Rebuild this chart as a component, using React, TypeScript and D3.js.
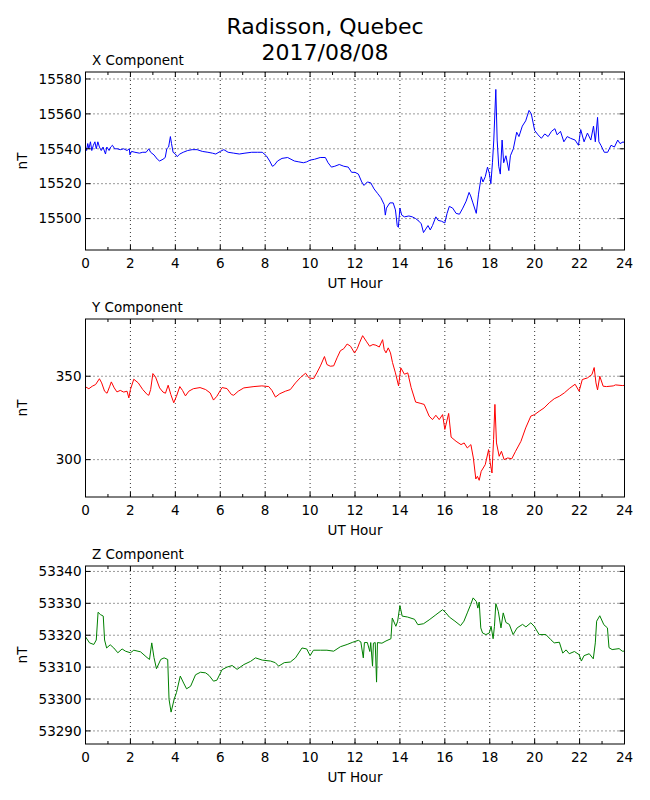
import React from "react";
import * as d3 from "d3";

// ---- data (hours, nT) ----
const X_T = [0,0.05,0.1,0.15,0.22,0.28,0.35,0.42,0.48,0.55,0.62,0.7,0.78,0.89,0.95,1.05,1.12,1.2,1.3,1.42,1.55,1.7,1.85,1.95,1.98,2.05,2.2,2.4,2.55,2.7,2.82,2.9,3.05,3.2,3.3,3.45,3.55,3.62,3.7,3.78,3.83,3.9,4,4.08,4.2,4.35,4.55,4.75,4.97,5.2,5.45,5.65,5.8,6,6.16,6.35,6.6,6.85,7.1,7.4,7.65,7.87,8.05,8.2,8.32,8.4,8.55,8.75,9,9.15,9.3,9.5,9.7,9.85,10,10.2,10.45,10.68,10.8,10.95,11.1,11.3,11.5,11.7,11.85,12,12.15,12.3,12.4,12.55,12.7,12.85,13,13.15,13.3,13.35,13.4,13.55,13.7,13.8,13.88,13.93,14,14.08,14.2,14.4,14.55,14.7,14.85,14.95,15.05,15.15,15.25,15.35,15.45,15.6,15.7,15.85,16,16.1,16.2,16.35,16.5,16.65,16.8,16.95,17.08,17.15,17.25,17.4,17.5,17.62,17.7,17.8,17.9,17.98,18.05,18.12,18.18,18.27,18.33,18.4,18.47,18.55,18.62,18.72,18.85,18.92,19.05,19.2,19.3,19.45,19.6,19.75,19.85,20,20.15,20.3,20.45,20.6,20.75,20.9,21,21.15,21.3,21.45,21.6,21.8,21.95,22.05,22.2,22.35,22.5,22.62,22.7,22.8,22.86,22.95,23.1,23.25,23.4,23.55,23.7,23.8,23.95,24];
const X_V = [15541,15539,15543,15540,15544,15539,15542,15544,15540,15544,15541,15539,15541,15537,15541,15539,15541,15542,15540,15540,15539.5,15540,15539,15540,15536.5,15538.5,15538,15537.5,15538,15538,15540,15538,15536.5,15534,15533,15534,15535,15540,15541,15547,15543,15538,15537,15535.5,15537,15538,15539,15539.5,15539.5,15538.5,15538,15537.5,15537,15538.5,15539.5,15538,15537.5,15537,15537.5,15538,15538,15538,15536,15533,15530,15530.5,15533,15534.5,15535,15534,15533,15532.5,15532,15532.5,15533.5,15534,15535,15535,15532,15529.5,15530,15531,15530,15529.5,15526.5,15526.5,15525.5,15521,15519,15521,15520.5,15517,15514.5,15512,15508,15502,15506,15509,15509,15505,15496,15495,15506,15502,15501,15501.5,15501,15500,15498.5,15497,15492,15494,15496,15493.5,15496,15501,15499,15498.5,15497.5,15503,15507,15506,15503,15502.5,15506,15510,15515,15513,15509,15503,15514,15524,15521,15524,15529.5,15526,15520,15532,15545,15574,15545,15530,15525.5,15545,15532,15536,15527.5,15536,15540,15549.5,15547,15553,15556,15562,15560,15550.5,15548,15546,15548.5,15547,15550,15551.5,15548,15550,15544,15547,15546,15545,15542,15551,15544,15549,15545,15553,15544,15558,15544,15542,15538,15538,15542,15541,15545,15543,15544,15543];

const Y_T = [0,0.15,0.3,0.45,0.62,0.72,0.85,0.96,1.08,1.15,1.28,1.4,1.55,1.7,1.85,1.93,2,2.15,2.35,2.55,2.75,2.82,2.9,3,3.12,3.3,3.45,3.56,3.68,3.8,3.93,4.05,4.2,4.32,4.45,4.6,4.8,5.1,5.35,5.55,5.7,5.85,6.08,6.3,6.5,6.6,6.8,7.05,7.5,7.85,8.16,8.3,8.46,8.65,8.9,9.12,9.35,9.57,9.8,9.95,10.16,10.3,10.46,10.64,10.75,10.9,11.05,11.2,11.35,11.5,11.65,11.8,11.98,12.1,12.2,12.34,12.5,12.65,12.8,12.93,13.08,13.23,13.3,13.38,13.48,13.58,13.67,13.8,13.94,14.04,14.2,14.35,14.5,14.7,14.9,15.08,15.3,15.45,15.6,15.75,15.9,16,16.17,16.28,16.5,16.72,16.86,17,17.16,17.27,17.38,17.45,17.53,17.62,17.8,17.95,18.02,18.1,18.17,18.23,18.3,18.42,18.52,18.64,18.8,18.98,19.15,19.39,19.6,19.83,20,20.2,20.42,20.65,20.87,21.1,21.32,21.54,21.8,21.98,22.12,22.35,22.55,22.65,22.73,22.8,22.9,23.05,23.2,23.5,23.6,23.9,24];
const Y_V = [343.6,342.5,344,345,348.5,346,341,339.8,344,346.6,343,340.6,341.5,340.5,341,337,342,348.2,346,342,339,338.6,342,351.6,349.5,343,340.5,339.8,344.6,339,334.1,338,343.8,341.5,338.2,341,342.5,343.2,342,340,335.7,338,343.2,342.6,339,338.6,341,343,343.8,344.2,343.8,341.5,337.5,339.5,341,342,346,349.2,351.8,349,348.6,352,356.2,361.8,357,356,356.2,361,365.3,366.5,369.3,368,363.9,366.5,370,374.3,371,368,369,368.6,367.5,371.9,366,364,367,364,358.2,352,344.2,355,351.2,352,343.2,334.5,333.8,333.1,326.1,324,326.6,324,327,318.1,327.7,313.5,311,309,310,307,309,301,288.4,290,287.6,293,297,306,298,292,312,333.1,310,302,305,300,301,300.5,305,311,319,326.1,327,329,331,334.1,336.5,338,340,342.6,345.2,341,348,349,351,355.2,346,341.8,350,344,343.8,344.2,344.8,344.4,344.5];

const Z_T = [0,0.18,0.37,0.48,0.56,0.66,0.79,0.85,0.94,1.1,1.26,1.44,1.63,1.78,2,2.15,2.45,2.74,2.85,2.95,3.05,3.16,3.35,3.5,3.66,3.72,3.81,3.95,4.05,4.22,4.37,4.5,4.68,4.9,5.12,5.35,5.5,5.7,5.85,6.08,6.3,6.53,6.75,7.05,7.35,7.57,7.87,8.24,8.45,8.6,8.85,9.12,9.35,9.64,9.85,10,10.15,10.46,10.75,11.05,11.35,11.65,11.9,12.15,12.26,12.37,12.42,12.55,12.66,12.7,12.78,12.82,12.9,12.96,13,13.2,13.38,13.6,13.66,13.82,13.9,14,14.1,14.34,14.65,14.8,15.05,15.3,15.6,15.9,16.05,16.2,16.45,16.7,16.85,17,17.15,17.26,17.4,17.47,17.53,17.6,17.68,17.83,17.98,18.06,18.15,18.21,18.27,18.38,18.5,18.6,18.72,18.87,19.04,19.22,19.46,19.61,19.83,19.98,20.2,20.5,20.72,20.87,21.1,21.25,21.4,21.54,21.77,21.98,22.08,22.2,22.43,22.61,22.7,22.76,22.9,23.08,23.24,23.31,23.45,23.76,23.9,24];
const Z_V = [53319.5,53317.6,53317.1,53318.5,53327.2,53326.5,53326,53318.5,53316,53317,53316,53314.5,53315.7,53315,53314.5,53315.3,53314.8,53313,53312.4,53317.6,53313,53309.5,53312.4,53312.9,53312.4,53299.9,53295.9,53300,53302,53307.2,53305,53303.2,53304,53307.6,53308.4,53308.2,53307.4,53305.6,53305.9,53309.2,53310,53310.5,53309.3,53310.8,53311.8,53312.9,53312.2,53311.9,53311.4,53310.3,53311.4,53311.6,53312.9,53316,53315.7,53313.6,53315.3,53315.3,53315.3,53315,53316.4,53317.1,53317.8,53318.4,53317.9,53312.9,53317.7,53317.7,53314.9,53317.7,53310.3,53317.5,53317.7,53305.3,53317.7,53317.5,53318.2,53318.9,53325.4,53322.8,53324.4,53329.3,53326,53325.7,53325,53323.3,53323.6,53324.8,53326.4,53328,53327,53325.7,53324.4,53323,53324.4,53327,53329.6,53331.7,53330.6,53328.5,53330.4,53322.3,53320.7,53320.2,53320.7,53322.8,53318.9,53322.8,53329.9,53327.5,53322.3,53327,53324,53323.4,53320.2,53322.3,53323.4,53322.6,53323.9,53322.8,53320.2,53320.2,53318.6,53317.6,53317.8,53314.4,53315.4,53314.2,53314.9,53313.9,53311.9,53313.6,53314.2,53312.6,53317.6,53324.4,53326.1,53323.3,53322.3,53316.1,53315.5,53315.8,53315,53315];

const X_TICKS = [15500, 15520, 15540, 15560, 15580];
const Y_TICKS = [300, 350];
const Z_TICKS = [53290, 53300, 53310, 53320, 53330, 53340];
const HOUR_MAJOR = [0, 2, 4, 6, 8, 10, 12, 14, 16, 18, 20, 22, 24];
const HOUR_MINOR = [1, 3, 5, 7, 9, 11, 13, 15, 17, 19, 21, 23];

const TITLE_LINES = ["Radisson, Quebec", "2017/08/08"];
const PANELS = [
  { name: "X Component", t: X_T, v: X_V, ticks: X_TICKS, color: "#0000ff", top: 72 },
  { name: "Y Component", t: Y_T, v: Y_V, ticks: Y_TICKS, color: "#ff0000", top: 319 },
  { name: "Z Component", t: Z_T, v: Z_V, ticks: Z_TICKS, color: "#008000", top: 566 },
];

const FONT = "DejaVu Sans, sans-serif";
const LEFT = 85.5;
const RIGHT = 624.5;
const PH = 178;

function Panel({ p }: { p: (typeof PANELS)[number] }) {
  const x = d3.scaleLinear().domain([0, 24]).range([LEFT, RIGHT]);
  const [mn, mx] = d3.extent(p.v) as [number, number];
  const top = p.top;
  const bottom = top + PH;
  const y = d3.scaleLinear().domain([mn - 10, mx + 10]).range([bottom, top]);
  const pts: [number, number][] = p.t.map((t, i) => [t, p.v[i]]);
  const line = d3
    .line<[number, number]>()
    .x((d) => x(d[0]))
    .y((d) => y(d[1]));
  const cx = (LEFT + RIGHT) / 2;
  return (
    <g>
      <text x={92} y={top - 7} fontSize={13.5} fontFamily={FONT}>
        {p.name}
      </text>
      {HOUR_MAJOR.slice(1, -1).map((h) => (
        <line key={"gx" + h} x1={x(h)} x2={x(h)} y1={top} y2={bottom} stroke="#000" strokeWidth={0.8} strokeDasharray="1,3" />
      ))}
      {p.ticks.map((v) => (
        <line key={"gy" + v} x1={LEFT} x2={RIGHT} y1={y(v)} y2={y(v)} stroke="#000" strokeWidth={0.8} strokeDasharray="1,3" />
      ))}
      <path d={line(pts) || ""} fill="none" stroke={p.color} strokeWidth={1} strokeLinejoin="round" />
      {HOUR_MAJOR.map((h) => (
        <g key={"tx" + h}>
          <line x1={x(h)} x2={x(h)} y1={bottom} y2={bottom - 5} stroke="#000" />
          <line x1={x(h)} x2={x(h)} y1={top} y2={top + 5} stroke="#000" />
          <text x={x(h)} y={bottom + 18} fontSize={13.5} fontFamily={FONT} textAnchor="middle">
            {h}
          </text>
        </g>
      ))}
      {HOUR_MINOR.map((h) => (
        <g key={"mx" + h}>
          <line x1={x(h)} x2={x(h)} y1={bottom} y2={bottom - 3} stroke="#000" />
          <line x1={x(h)} x2={x(h)} y1={top} y2={top + 3} stroke="#000" />
        </g>
      ))}
      {p.ticks.map((v) => (
        <g key={"ty" + v}>
          <line x1={LEFT} x2={LEFT + 5} y1={y(v)} y2={y(v)} stroke="#000" />
          <line x1={RIGHT} x2={RIGHT - 5} y1={y(v)} y2={y(v)} stroke="#000" />
          <text x={LEFT - 4} y={y(v)} dy="0.35em" fontSize={13.5} fontFamily={FONT} textAnchor="end">
            {v}
          </text>
        </g>
      ))}
      <rect x={LEFT} y={top} width={RIGHT - LEFT} height={PH} fill="none" stroke="#000" strokeWidth={1} />
      <text x={cx} y={bottom + 38} fontSize={13.5} fontFamily={FONT} textAnchor="middle">
        UT Hour
      </text>
      <text
        transform={`translate(27,${(top + bottom) / 2}) rotate(-90)`}
        fontSize={13.5}
        fontFamily={FONT}
        textAnchor="middle"
      >
        nT
      </text>
    </g>
  );
}

export default function App() {
  return (
    <svg
      width={650}
      height={800}
      style={{ position: "absolute", left: 0, top: 0, background: "#fff" }}
    >
      <rect x={0} y={0} width={650} height={800} fill="#fff" />
      {TITLE_LINES.map((s, i) => (
        <text key={s} x={325} y={34 + i * 26} fontSize={22} fontFamily={FONT} textAnchor="middle">
          {s}
        </text>
      ))}
      {PANELS.map((p) => (
        <Panel key={p.name} p={p} />
      ))}
    </svg>
  );
}
